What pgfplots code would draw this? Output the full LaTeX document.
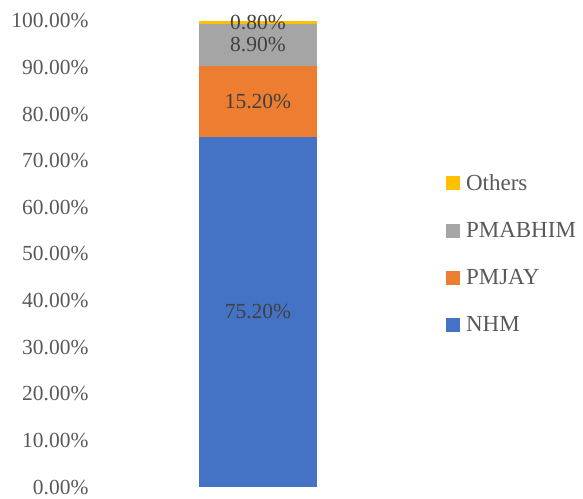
\documentclass[border=0pt]{standalone}
\usepackage{pgfplots}
\pgfplotsset{compat=1.18}
\usepackage{fontspec}
\setmainfont{Liberation Serif}
\definecolor{nhm}{HTML}{4472C4}
\definecolor{pmjay}{HTML}{ED7D31}
\definecolor{pmabhim}{HTML}{A5A5A5}
\definecolor{others}{HTML}{FFC000}
\definecolor{labelgray}{HTML}{595959}
\definecolor{valgray}{HTML}{404040}
\pgfplotsset{
  common/.style={
    scale only axis,
    width=316pt, height=466pt,
    xmin=-0.5, xmax=0.5,
    ymin=0, ymax=100,
    xtick=\empty,
    axis line style={draw=none},
    major tick style={draw=none},
  }
}
\begin{document}
\begin{tikzpicture}
\path[use as bounding box] (-100pt,-11pt) rectangle (483pt,487pt);
\begin{axis}[
    common,
    ybar stacked,
    bar width=118pt,
    ytick={0,10,...,100},
    yticklabel={\pgfmathprintnumber[assume math mode=true,fixed,fixed zerofill,precision=2]{\tick}\%},
    yticklabel style={text=labelgray, font=\fontsize{21.5}{25}\selectfont, xshift=-8pt},
    legend style={at={(1.085,0.5)}, anchor=west, draw=none, fill=none,
        font=\fontsize{23}{27}\selectfont, text=labelgray, row sep=26.5pt,
        /tikz/every even column/.append style={column sep=2pt}},
    legend cell align=left,
    reverse legend,
    legend image code/.code={\fill[#1] (0pt,-7pt) rectangle (14pt,7pt);},
    legend style={nodes={inner xsep=6pt}},
]
\addplot[fill=nhm, draw=none] coordinates {(0,75.2)};
\addplot[fill=pmjay, draw=none] coordinates {(0,15.2)};
\addplot[fill=pmabhim, draw=none] coordinates {(0,8.9)};
\addplot[fill=others, draw=none] coordinates {(0,0.8)};
\legend{NHM,PMJAY,PMABHIM,Others}
\end{axis}
% data labels at the middle of each segment
\begin{axis}[common, ytick=\empty]
\addplot[draw=none, mark=none, point meta=explicit symbolic,
    nodes near coords,
    every node near coord/.style={anchor=center, text=valgray,
        font=\fontsize{21.5}{25}\selectfont, inner sep=0pt}]
  coordinates {(0,37.6)[75.20\%] (0,82.8)[15.20\%] (0,94.85)[8.90\%] (0,99.6)[0.80\%]};
\end{axis}
\end{tikzpicture}
\end{document}
